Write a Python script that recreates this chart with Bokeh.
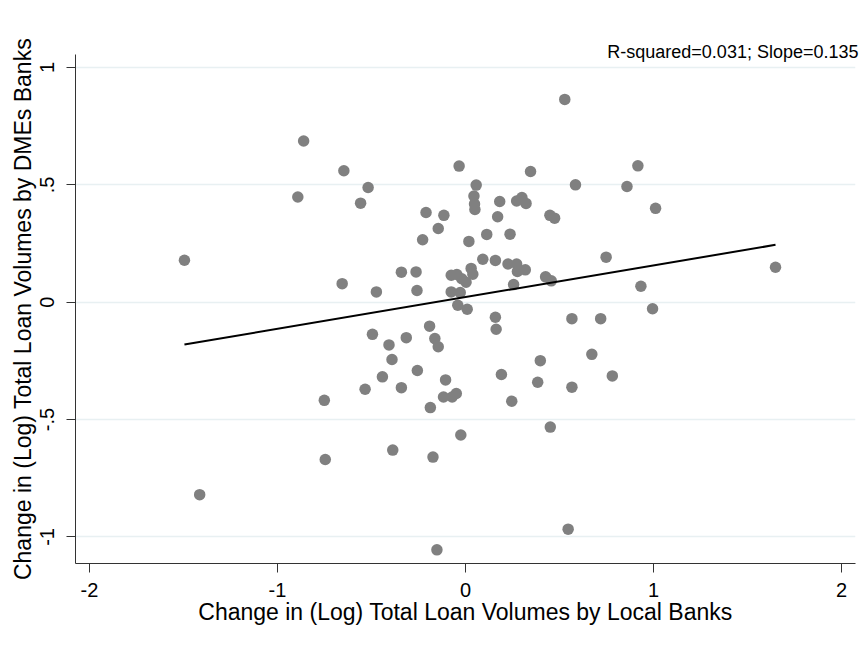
from bokeh.plotting import figure
from bokeh.models import Range1d, FixedTicker, ColumnDataSource
from bokeh.embed import file_html
from bokeh.resources import INLINE

# Data
local_change = [-1.495, -1.414, -0.861, -0.892, -0.647, -0.656, -0.751, -0.746, -0.558, -0.518,
                -0.474, -0.495, -0.534, -0.442, -0.407, -0.391, -0.387, -0.341, -0.315, -0.341,
                -0.263, -0.258, -0.256, -0.228, -0.210, -0.191, -0.187, -0.173, -0.163, -0.145,
                -0.145, -0.152, -0.115, -0.117, -0.106, -0.071, -0.049, -0.076, -0.046, -0.020,
                0.003, 0.030, 0.039, -0.076, -0.028, -0.041, 0.009, -0.034, -0.025, 0.018,
                0.057, 0.045, 0.048, 0.050, 0.092, 0.113, 0.159, 0.159, 0.163, 0.171,
                0.182, 0.191, 0.226, 0.237, 0.246, 0.256, 0.272, 0.272, 0.276, 0.300,
                0.318, 0.322, 0.346, 0.384, 0.398, 0.426, 0.449, 0.456, 0.451, 0.474,
                0.528, 0.546, 0.566, 0.566, 0.585, 0.672, 0.719, 0.748, 0.781, 0.859,
                0.917, 0.933, 0.995, 1.011, 1.649]
dme_change = [0.179, -0.820, 0.687, 0.448, 0.560, 0.079, -0.418, -0.670, 0.422, 0.489,
              0.044, -0.137, -0.371, -0.318, -0.182, -0.244, -0.630, 0.128, -0.151, -0.364,
              0.129, 0.050, -0.291, 0.266, 0.382, -0.102, -0.449, -0.660, -0.155, -0.190,
              0.314, -1.055, 0.370, -0.404, -0.331, -0.404, -0.389, 0.115, 0.118, 0.100,
              0.085, 0.144, 0.119, 0.044, 0.041, -0.013, -0.030, 0.580, -0.566, 0.259,
              0.499, 0.452, 0.418, 0.395, 0.183, 0.289, 0.178, -0.064, -0.115, 0.364,
              0.429, -0.308, 0.163, 0.290, -0.422, 0.075, 0.163, 0.431, 0.131, 0.446,
              0.138, 0.421, 0.557, -0.341, -0.249, 0.108, 0.370, 0.091, -0.532, 0.358,
              0.864, -0.967, -0.070, -0.362, 0.500, -0.222, -0.070, 0.192, -0.314, 0.493,
              0.581, 0.068, -0.028, 0.400, 0.149]

fit_slope = 0.135
fit_intercept = 0.0218
r_squared = 0.031

x_ticks = [-2, -1, 0, 1, 2]
x_tick_labels = ["-2", "-1", "0", "1", "2"]
y_ticks = [-1, -0.5, 0, 0.5, 1]
y_tick_labels = ["-1", "-.5", "0", ".5", "1"]

FONT = "Liberation Sans"

p = figure(width=861, height=640, output_backend="svg", toolbar_location=None,
           x_range=Range1d(-2.0745, 2.0745), y_range=Range1d(-1.1133, 1.0554),
           min_border_left=75, min_border_right=6, min_border_top=54, min_border_bottom=77)

p.title.text = "R-squared=%.3f; Slope=%.3f" % (r_squared, fit_slope)
p.title.align = "right"
p.title.text_font = FONT
p.title.text_font_size = "18px"
p.title.text_font_style = "normal"
p.title.text_color = "#000000"
p.title.offset = -3
p.title.standoff = -14

p.outline_line_color = None
p.background_fill_color = None
p.border_fill_color = "white"

p.xgrid.visible = False
p.ygrid.ticker = FixedTicker(ticks=y_ticks)
p.ygrid.grid_line_color = "#e8f0f2"
p.ygrid.grid_line_width = 1.5

for ax, ticks, labels in ((p.xaxis[0], x_ticks, x_tick_labels), (p.yaxis[0], y_ticks, y_tick_labels)):
    ax.ticker = FixedTicker(ticks=ticks)
    ax.major_label_overrides = dict(zip(ticks, labels))
    ax.minor_tick_line_color = None
    ax.major_tick_in = 0
    ax.major_tick_out = 9
    ax.axis_line_color = "#333333"
    ax.major_tick_line_color = "#333333"
    ax.major_label_text_font = FONT
    ax.major_label_text_font_size = "20px"
    ax.major_label_text_color = "#000000"
    ax.axis_label_text_font = FONT
    ax.axis_label_text_font_size = "23px"
    ax.axis_label_text_font_style = "normal"
    ax.axis_label_text_color = "#000000"

p.xaxis.axis_label = "Change in (Log) Total Loan Volumes by Local Banks"
p.yaxis.axis_label = "Change in (Log) Total Loan Volumes by DMEs Banks"
p.yaxis.major_label_orientation = "vertical"
p.xaxis.major_label_standoff = 10
p.yaxis.major_label_standoff = 12
p.xaxis.axis_label_standoff = -1
p.yaxis.axis_label_standoff = 2

src = ColumnDataSource(dict(x=local_change, y=dme_change))
p.scatter("x", "y", source=src, size=11.5, fill_color="#808080", line_color=None, marker="circle")

x_lo, x_hi = min(local_change), max(local_change)
p.line([x_lo, x_hi], [fit_intercept + fit_slope * x_lo, fit_intercept + fit_slope * x_hi],
       line_color="black", line_width=2)

open("out.html", "w").write(file_html(p, INLINE))
